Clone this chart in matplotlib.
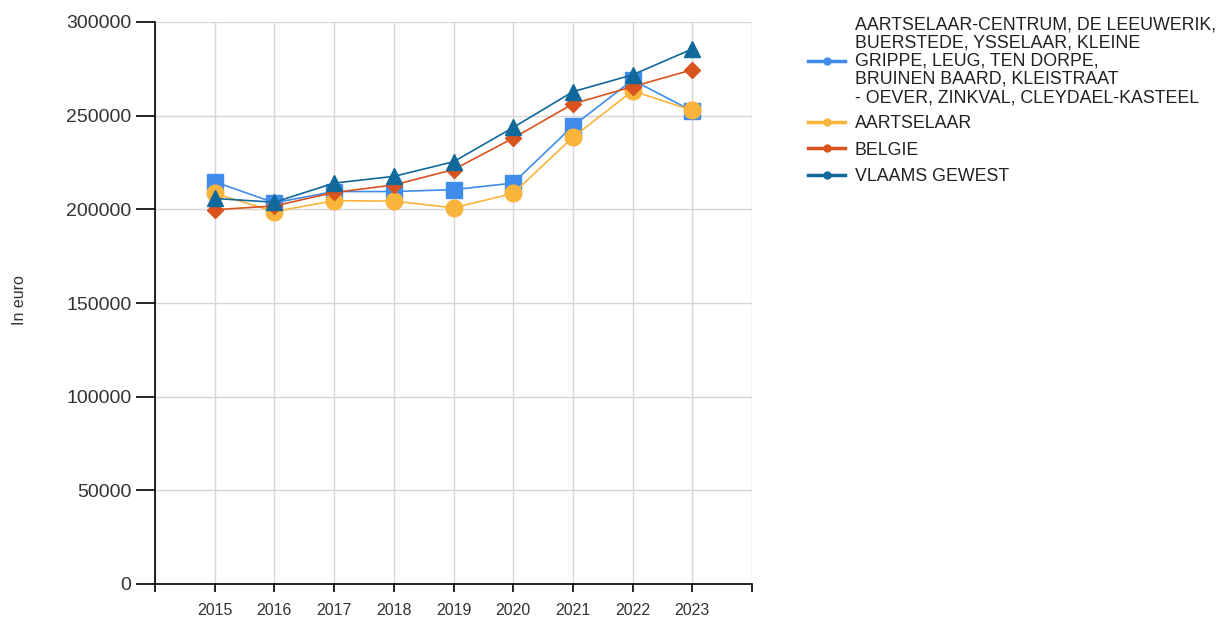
import matplotlib
matplotlib.use("Agg")
import matplotlib.pyplot as plt

plt.rcParams['font.family'] = ['Liberation Sans', 'DejaVu Sans']

# data
years = [2015, 2016, 2017, 2018, 2019, 2020, 2021, 2022, 2023]
wijk = [214700, 203500, 209500, 209500, 210500, 214000, 244500, 269000, 252500]
aartselaar = [208500, 198800, 204600, 204400, 200800, 208500, 238500, 263200, 252800]
belgie = [199800, 201800, 209000, 213000, 221200, 238000, 256300, 265500, 274500]
vlaams = [205800, 203800, 214000, 217600, 225400, 243700, 262800, 271800, 285600]

wijk_label = ("AARTSELAAR-CENTRUM, DE LEEUWERIK,\nBUERSTEDE, YSSELAAR, KLEINE\n"
              "GRIPPE, LEUG, TEN DORPE,\nBRUINEN BAARD, KLEISTRAAT\n"
              "- OEVER, ZINKVAL, CLEYDAEL-KASTEEL")
labels = [wijk_label, "AARTSELAAR", "BELGIE", "VLAAMS GEWEST"]
colors = ["#3f8ceb", "#f9b43c", "#d9531e", "#10699a"]
markers = ["s", "o", "D", "^"]
msizes = [11, 12, 8, 11]

fig = plt.figure(figsize=(12.26, 6.19), dpi=100)
ax = fig.add_axes([155/1226, 35/619, 597/1226, 562/619])

series = [wijk, aartselaar, belgie, vlaams]
for vals, lab, c, m, ms in zip(series, labels, colors, markers, msizes):
    ax.plot(years, vals, color=c, lw=1.2, marker=m, markersize=ms, label=lab)

ax.set_xlim(2014, 2024)
ax.set_ylim(0, 300000)
ax.set_xticks(range(2014, 2025))
ax.set_xticklabels([""] + [str(y) for y in years] + [""], fontsize=11.5)
yt = list(range(0, 300001, 50000))
ax.set_yticks(yt)
ax.set_yticklabels([str(v) for v in yt], fontsize=14)
ax.tick_params(direction='out', color='black', width=1.2)
ax.tick_params(axis='y', length=14, pad=3, labelcolor='#333333')
ax.tick_params(axis='x', length=6, labelcolor='#333333', pad=8)
ax.grid(True, color='#d6d6d6', lw=1)
ax.set_axisbelow(True)
for s in ['top', 'right']:
    ax.spines[s].set_visible(False)
for s in ['left', 'bottom']:
    ax.spines[s].set_linewidth(1.2)

fig.text(19/1226, 1 - 300/619, "In euro", rotation=90, ha='center', va='center',
         fontsize=11.5, color='#333333')

handles = [plt.Line2D([], [], color=c, lw=2.5, marker='o', markersize=5) for c in colors]
leg = fig.legend(handles, labels, loc='upper left', bbox_to_anchor=(808/1226, 1 - 16/619),
                 frameon=False, fontsize=12.75, handlelength=2.1, handletextpad=0.55,
                 labelspacing=0.52, borderaxespad=0, borderpad=0)
for t in leg.get_texts():
    t.set_linespacing(1.1)
    t.set_color('#222222')

fig.savefig("out.png", dpi=100)
